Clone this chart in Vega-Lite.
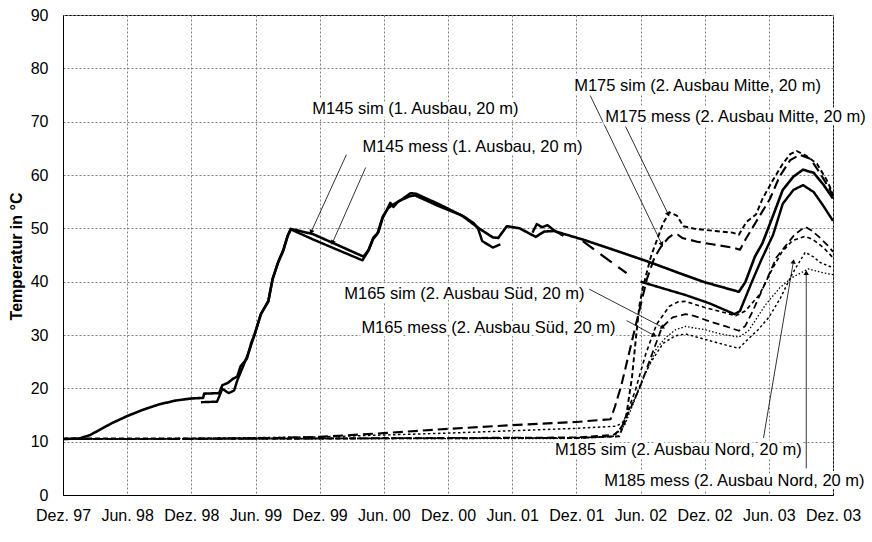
{
  "$schema": "https://vega.github.io/schema/vega-lite/v6.json",
  "width": 770,
  "height": 480,
  "autosize": {"type": "none"},
  "padding": {"left": 63, "top": 15, "right": 39, "bottom": 47},
  "background": "white",
  "config": {
    "font": "Liberation Sans",
    "view": {"stroke": "#000", "strokeWidth": 1},
    "axis": {
      "grid": true, "gridColor": "#808080", "gridDash": [2, 2], "gridWidth": 1,
      "ticks": false, "domain": true, "domainColor": "#000", "domainWidth": 1,
      "labelFont": "Liberation Sans", "labelFontSize": 16, "labelColor": "#000",
      "labelOverlap": false, "labelFlush": false, "labelBound": false
    }
  },
  "datasets": {
    "lines": [
      {"series":"M145 sim","part":"a","month":0,"temp":10.5},
      {"series":"M145 sim","part":"a","month":1.5,"temp":10.6},
      {"series":"M145 sim","part":"a","month":2.5,"temp":11.2},
      {"series":"M145 sim","part":"a","month":3.5,"temp":12.3},
      {"series":"M145 sim","part":"a","month":4.5,"temp":13.4},
      {"series":"M145 sim","part":"a","month":6,"temp":14.8},
      {"series":"M145 sim","part":"a","month":7.5,"temp":16.0},
      {"series":"M145 sim","part":"a","month":9,"temp":17.0},
      {"series":"M145 sim","part":"a","month":10.5,"temp":17.7},
      {"series":"M145 sim","part":"a","month":12,"temp":18.1},
      {"series":"M145 sim","part":"a","month":13.1,"temp":18.2},
      {"series":"M145 sim","part":"a","month":13.2,"temp":19.0},
      {"series":"M145 sim","part":"a","month":14.6,"temp":19.1},
      {"series":"M145 sim","part":"a","month":14.9,"temp":20.6},
      {"series":"M145 sim","part":"a","month":15.4,"temp":21.0},
      {"series":"M145 sim","part":"a","month":15.9,"temp":21.8},
      {"series":"M145 sim","part":"a","month":16.3,"temp":22.2},
      {"series":"M145 sim","part":"a","month":16.6,"temp":24.1},
      {"series":"M145 sim","part":"a","month":17.2,"temp":25.6},
      {"series":"M145 sim","part":"a","month":17.6,"temp":28.5},
      {"series":"M145 sim","part":"a","month":17.9,"temp":30.0},
      {"series":"M145 sim","part":"a","month":18.5,"temp":33.9},
      {"series":"M145 sim","part":"a","month":19.2,"temp":36.3},
      {"series":"M145 sim","part":"a","month":19.6,"temp":40.5},
      {"series":"M145 sim","part":"a","month":20.1,"temp":43.5},
      {"series":"M145 sim","part":"a","month":20.6,"temp":45.8},
      {"series":"M145 sim","part":"a","month":21.0,"temp":48.5},
      {"series":"M145 sim","part":"a","month":21.3,"temp":49.9},
      {"series":"M145 sim","part":"a","month":23.4,"temp":48.9},
      {"series":"M145 sim","part":"a","month":28.1,"temp":44.7},
      {"series":"M145 sim","part":"a","month":28.6,"temp":46.0},
      {"series":"M145 sim","part":"a","month":29.0,"temp":48.0},
      {"series":"M145 sim","part":"a","month":29.4,"temp":49.0},
      {"series":"M145 sim","part":"a","month":29.9,"temp":52.2},
      {"series":"M145 sim","part":"a","month":30.4,"temp":53.8},
      {"series":"M145 sim","part":"a","month":31.0,"temp":54.6},
      {"series":"M145 sim","part":"a","month":31.5,"temp":55.2},
      {"series":"M145 sim","part":"a","month":32.4,"temp":56.0},
      {"series":"M145 sim","part":"a","month":32.9,"temp":56.2},
      {"series":"M145 sim","part":"a","month":35.1,"temp":54.2},
      {"series":"M145 sim","part":"a","month":37.3,"temp":52.4},
      {"series":"M145 sim","part":"a","month":38.1,"temp":51.2},
      {"series":"M145 sim","part":"a","month":38.9,"temp":50.0},
      {"series":"M145 sim","part":"a","month":39.5,"temp":49.2},
      {"series":"M145 sim","part":"a","month":40.2,"temp":48.3},
      {"series":"M145 sim","part":"a","month":40.7,"temp":48.2},
      {"series":"M145 sim","part":"a","month":41.5,"temp":50.4},
      {"series":"M145 sim","part":"a","month":42.7,"temp":50.0},
      {"series":"M145 sim","part":"a","month":44.2,"temp":48.4},
      {"series":"M145 sim","part":"a","month":45.0,"temp":49.4},
      {"series":"M145 sim","part":"a","month":45.9,"temp":49.5},
      {"series":"M145 sim","part":"a","month":48.6,"temp":47.9},
      {"series":"M145 sim","part":"a","month":51.0,"temp":46.3},
      {"series":"M145 sim","part":"a","month":54.8,"temp":43.7},
      {"series":"M145 sim","part":"a","month":57.9,"temp":41.4},
      {"series":"M145 sim","part":"a","month":60.0,"temp":39.9},
      {"series":"M145 sim","part":"a","month":63.2,"temp":38.1},
      {"series":"M145 sim","part":"a","month":63.8,"temp":39.9},
      {"series":"M145 sim","part":"a","month":64.7,"temp":44.7},
      {"series":"M145 sim","part":"a","month":65.4,"temp":47.2},
      {"series":"M145 sim","part":"a","month":66.4,"temp":52.4},
      {"series":"M145 sim","part":"a","month":67.3,"temp":57.2},
      {"series":"M145 sim","part":"a","month":68.3,"temp":59.7},
      {"series":"M145 sim","part":"a","month":69.2,"temp":61.0},
      {"series":"M145 sim","part":"a","month":70.2,"temp":60.4},
      {"series":"M145 sim","part":"a","month":71.1,"temp":58.2},
      {"series":"M145 sim","part":"a","month":72.0,"temp":55.6},

      {"series":"M145 mess","part":"a","month":12.9,"temp":17.4},
      {"series":"M145 mess","part":"a","month":14.4,"temp":17.5},
      {"series":"M145 mess","part":"a","month":14.9,"temp":19.9},
      {"series":"M145 mess","part":"a","month":15.5,"temp":19.1},
      {"series":"M145 mess","part":"a","month":16.0,"temp":19.6},
      {"series":"M145 mess","part":"a","month":16.3,"temp":21.5},
      {"series":"M145 mess","part":"a","month":16.9,"temp":24.4},
      {"series":"M145 mess","part":"a","month":17.4,"temp":27.0},
      {"series":"M145 mess","part":"a","month":17.9,"temp":30.0},
      {"series":"M145 mess","part":"a","month":18.5,"temp":33.9},
      {"series":"M145 mess","part":"a","month":19.2,"temp":36.4},
      {"series":"M145 mess","part":"a","month":19.6,"temp":40.5},
      {"series":"M145 mess","part":"a","month":20.1,"temp":43.6},
      {"series":"M145 mess","part":"a","month":20.6,"temp":46.0},
      {"series":"M145 mess","part":"a","month":21.0,"temp":48.6},
      {"series":"M145 mess","part":"a","month":21.3,"temp":49.8},
      {"series":"M145 mess","part":"a","month":23.4,"temp":47.9},
      {"series":"M145 mess","part":"a","month":28.0,"temp":44.0},
      {"series":"M145 mess","part":"a","month":28.5,"temp":45.6},
      {"series":"M145 mess","part":"a","month":29.0,"temp":48.2},
      {"series":"M145 mess","part":"a","month":29.5,"temp":49.3},
      {"series":"M145 mess","part":"a","month":29.9,"temp":52.0},
      {"series":"M145 mess","part":"a","month":30.3,"temp":53.5},
      {"series":"M145 mess","part":"a","month":30.6,"temp":54.8},
      {"series":"M145 mess","part":"a","month":30.9,"temp":54.0},
      {"series":"M145 mess","part":"a","month":31.3,"temp":54.9},
      {"series":"M145 mess","part":"a","month":31.8,"temp":55.6},
      {"series":"M145 mess","part":"a","month":32.5,"temp":56.6},
      {"series":"M145 mess","part":"a","month":33.0,"temp":56.5},
      {"series":"M145 mess","part":"a","month":35.2,"temp":54.5},
      {"series":"M145 mess","part":"a","month":37.5,"temp":52.2},
      {"series":"M145 mess","part":"a","month":38.4,"temp":51.0},
      {"series":"M145 mess","part":"a","month":38.8,"temp":50.0},
      {"series":"M145 mess","part":"a","month":39.2,"temp":47.6},
      {"series":"M145 mess","part":"a","month":40.2,"temp":46.4},
      {"series":"M145 mess","part":"a","month":40.9,"temp":47.0},
      {"series":"M145 mess","part":"b","month":43.9,"temp":49.2},
      {"series":"M145 mess","part":"b","month":44.3,"temp":50.8},
      {"series":"M145 mess","part":"b","month":44.8,"temp":50.2},
      {"series":"M145 mess","part":"b","month":45.3,"temp":50.6},
      {"series":"M145 mess","part":"b","month":45.8,"temp":49.8},
      {"series":"M145 mess","part":"b","month":46.8,"temp":48.6},
      {"series":"M145 mess","part":"c","month":54.0,"temp":40.0},
      {"series":"M145 mess","part":"c","month":56.0,"temp":38.8},
      {"series":"M145 mess","part":"c","month":58.2,"temp":37.5},
      {"series":"M145 mess","part":"c","month":60.5,"temp":35.9},
      {"series":"M145 mess","part":"c","month":62.8,"temp":33.9},
      {"series":"M145 mess","part":"c","month":63.3,"temp":34.5},
      {"series":"M145 mess","part":"c","month":64.4,"temp":39.9},
      {"series":"M145 mess","part":"c","month":65.3,"temp":44.1},
      {"series":"M145 mess","part":"c","month":66.4,"temp":48.8},
      {"series":"M145 mess","part":"c","month":67.3,"temp":54.6},
      {"series":"M145 mess","part":"c","month":68.3,"temp":57.2},
      {"series":"M145 mess","part":"c","month":69.2,"temp":58.1},
      {"series":"M145 mess","part":"c","month":70.2,"temp":56.8},
      {"series":"M145 mess","part":"c","month":71.1,"temp":54.2},
      {"series":"M145 mess","part":"c","month":72.0,"temp":51.4},

      {"series":"M145 mess (Trend)","part":"a","month":48.6,"temp":47.6},
      {"series":"M145 mess (Trend)","part":"a","month":50.5,"temp":44.8},
      {"series":"M145 mess (Trend)","part":"a","month":52.7,"temp":41.6},

      {"series":"M175 sim","part":"a","month":0,"temp":10.5},
      {"series":"M175 sim","part":"a","month":12,"temp":10.5},
      {"series":"M175 sim","part":"a","month":20,"temp":10.7},
      {"series":"M175 sim","part":"a","month":24,"temp":10.9},
      {"series":"M175 sim","part":"a","month":30,"temp":11.6},
      {"series":"M175 sim","part":"a","month":36,"temp":12.4},
      {"series":"M175 sim","part":"a","month":42,"temp":13.1},
      {"series":"M175 sim","part":"a","month":48,"temp":13.7},
      {"series":"M175 sim","part":"a","month":51.2,"temp":14.2},
      {"series":"M175 sim","part":"a","month":51.6,"temp":16.5},
      {"series":"M175 sim","part":"a","month":52.2,"temp":20.5},
      {"series":"M175 sim","part":"a","month":52.8,"temp":25.5},
      {"series":"M175 sim","part":"a","month":53.4,"temp":30.5},
      {"series":"M175 sim","part":"a","month":54.0,"temp":35.5},
      {"series":"M175 sim","part":"a","month":54.6,"temp":40.5},
      {"series":"M175 sim","part":"a","month":55.3,"temp":44.5},
      {"series":"M175 sim","part":"a","month":55.9,"temp":46.5},
      {"series":"M175 sim","part":"a","month":56.6,"temp":48.2},
      {"series":"M175 sim","part":"a","month":57.0,"temp":48.8},
      {"series":"M175 sim","part":"a","month":57.5,"temp":48.8},
      {"series":"M175 sim","part":"a","month":57.9,"temp":48.2},
      {"series":"M175 sim","part":"a","month":59.3,"temp":47.5},
      {"series":"M175 sim","part":"a","month":60.7,"temp":47.0},
      {"series":"M175 sim","part":"a","month":62.6,"temp":46.4},
      {"series":"M175 sim","part":"a","month":63.3,"temp":46.0},
      {"series":"M175 sim","part":"a","month":63.9,"temp":48.2},
      {"series":"M175 sim","part":"a","month":64.8,"temp":51.2},
      {"series":"M175 sim","part":"a","month":66.1,"temp":55.5},
      {"series":"M175 sim","part":"a","month":67.0,"temp":59.7},
      {"series":"M175 sim","part":"a","month":68.0,"temp":62.8},
      {"series":"M175 sim","part":"a","month":68.9,"temp":63.8},
      {"series":"M175 sim","part":"a","month":69.9,"temp":63.0},
      {"series":"M175 sim","part":"a","month":70.8,"temp":60.3},
      {"series":"M175 sim","part":"a","month":71.7,"temp":57.3},
      {"series":"M175 sim","part":"a","month":72.0,"temp":56.0},

      {"series":"M175 mess","part":"a","month":0,"temp":10.6},
      {"series":"M175 mess","part":"a","month":24,"temp":10.6},
      {"series":"M175 mess","part":"a","month":48,"temp":10.7},
      {"series":"M175 mess","part":"a","month":52.0,"temp":11.0},
      {"series":"M175 mess","part":"a","month":52.6,"temp":14.0},
      {"series":"M175 mess","part":"a","month":53.2,"temp":22.0},
      {"series":"M175 mess","part":"a","month":53.6,"temp":30.0},
      {"series":"M175 mess","part":"a","month":53.9,"temp":35.5},
      {"series":"M175 mess","part":"a","month":54.2,"temp":38.7},
      {"series":"M175 mess","part":"a","month":55.0,"temp":44.9},
      {"series":"M175 mess","part":"a","month":55.5,"temp":47.6},
      {"series":"M175 mess","part":"a","month":56.1,"temp":50.9},
      {"series":"M175 mess","part":"a","month":56.7,"temp":53.0},
      {"series":"M175 mess","part":"a","month":57.4,"temp":52.4},
      {"series":"M175 mess","part":"a","month":58.0,"temp":50.4},
      {"series":"M175 mess","part":"a","month":59.1,"temp":49.9},
      {"series":"M175 mess","part":"a","month":61.0,"temp":49.5},
      {"series":"M175 mess","part":"a","month":62.6,"temp":49.2},
      {"series":"M175 mess","part":"a","month":63.2,"temp":48.8},
      {"series":"M175 mess","part":"a","month":63.9,"temp":51.2},
      {"series":"M175 mess","part":"a","month":64.8,"temp":52.6},
      {"series":"M175 mess","part":"a","month":65.4,"temp":55.5},
      {"series":"M175 mess","part":"a","month":66.4,"temp":59.1},
      {"series":"M175 mess","part":"a","month":67.3,"temp":62.1},
      {"series":"M175 mess","part":"a","month":68.0,"temp":63.9},
      {"series":"M175 mess","part":"a","month":68.6,"temp":64.5},
      {"series":"M175 mess","part":"a","month":69.5,"temp":63.6},
      {"series":"M175 mess","part":"a","month":70.5,"temp":62.1},
      {"series":"M175 mess","part":"a","month":71.4,"temp":59.1},
      {"series":"M175 mess","part":"a","month":72.0,"temp":56.5},

      {"series":"M165 sim","part":"a","month":0,"temp":10.5},
      {"series":"M165 sim","part":"a","month":24,"temp":10.6},
      {"series":"M165 sim","part":"a","month":48,"temp":10.8},
      {"series":"M165 sim","part":"a","month":51.5,"temp":11.3},
      {"series":"M165 sim","part":"a","month":52.1,"temp":12.2},
      {"series":"M165 sim","part":"a","month":53.1,"temp":16.4},
      {"series":"M165 sim","part":"a","month":54.0,"temp":20.5},
      {"series":"M165 sim","part":"a","month":55.0,"temp":26.0},
      {"series":"M165 sim","part":"a","month":56.0,"temp":31.4},
      {"series":"M165 sim","part":"a","month":57.0,"temp":33.3},
      {"series":"M165 sim","part":"a","month":58.2,"temp":33.9},
      {"series":"M165 sim","part":"a","month":59.0,"temp":33.6},
      {"series":"M165 sim","part":"a","month":60.4,"temp":32.6},
      {"series":"M165 sim","part":"a","month":62.0,"temp":31.6},
      {"series":"M165 sim","part":"a","month":63.2,"temp":30.8},
      {"series":"M165 sim","part":"a","month":63.8,"temp":31.7},
      {"series":"M165 sim","part":"a","month":64.5,"temp":34.5},
      {"series":"M165 sim","part":"a","month":65.7,"temp":39.9},
      {"series":"M165 sim","part":"a","month":66.7,"temp":44.5},
      {"series":"M165 sim","part":"a","month":67.6,"temp":46.8},
      {"series":"M165 sim","part":"a","month":68.4,"temp":48.8},
      {"series":"M165 sim","part":"a","month":69.4,"temp":50.3},
      {"series":"M165 sim","part":"a","month":70.0,"temp":49.6},
      {"series":"M165 sim","part":"a","month":70.8,"temp":48.2},
      {"series":"M165 sim","part":"a","month":71.5,"temp":46.8},
      {"series":"M165 sim","part":"a","month":72.0,"temp":45.6},

      {"series":"M165 mess","part":"a","month":0,"temp":10.5},
      {"series":"M165 mess","part":"a","month":48,"temp":10.7},
      {"series":"M165 mess","part":"a","month":51.5,"temp":11.0},
      {"series":"M165 mess","part":"a","month":52.3,"temp":13.0},
      {"series":"M165 mess","part":"a","month":53.5,"temp":19.5},
      {"series":"M165 mess","part":"a","month":54.5,"temp":26.5},
      {"series":"M165 mess","part":"a","month":55.5,"temp":32.0},
      {"series":"M165 mess","part":"a","month":56.7,"temp":35.4},
      {"series":"M165 mess","part":"a","month":57.5,"temp":36.2},
      {"series":"M165 mess","part":"a","month":58.2,"temp":36.3},
      {"series":"M165 mess","part":"a","month":60.1,"temp":35.1},
      {"series":"M165 mess","part":"a","month":61.5,"temp":34.4},
      {"series":"M165 mess","part":"a","month":62.9,"temp":33.6},
      {"series":"M165 mess","part":"a","month":63.8,"temp":34.5},
      {"series":"M165 mess","part":"a","month":65.1,"temp":37.5},
      {"series":"M165 mess","part":"a","month":66.3,"temp":42.3},
      {"series":"M165 mess","part":"a","month":67.2,"temp":45.5},
      {"series":"M165 mess","part":"a","month":68.2,"temp":47.7},
      {"series":"M165 mess","part":"a","month":69.4,"temp":48.5},
      {"series":"M165 mess","part":"a","month":70.2,"temp":47.8},
      {"series":"M165 mess","part":"a","month":71.1,"temp":46.4},
      {"series":"M165 mess","part":"a","month":72.0,"temp":44.5},

      {"series":"M185 sim","part":"a","month":0,"temp":10.5},
      {"series":"M185 sim","part":"a","month":12,"temp":10.6},
      {"series":"M185 sim","part":"a","month":24,"temp":10.9},
      {"series":"M185 sim","part":"a","month":36,"temp":11.6},
      {"series":"M185 sim","part":"a","month":48,"temp":12.5},
      {"series":"M185 sim","part":"a","month":51.7,"temp":12.9},
      {"series":"M185 sim","part":"a","month":52.3,"temp":13.5},
      {"series":"M185 sim","part":"a","month":53.5,"temp":18.2},
      {"series":"M185 sim","part":"a","month":54.2,"temp":21.8},
      {"series":"M185 sim","part":"a","month":55.0,"temp":25.0},
      {"series":"M185 sim","part":"a","month":56.1,"temp":28.4},
      {"series":"M185 sim","part":"a","month":57.2,"temp":29.8},
      {"series":"M185 sim","part":"a","month":58.2,"temp":30.2},
      {"series":"M185 sim","part":"a","month":60.0,"temp":29.2},
      {"series":"M185 sim","part":"a","month":62.0,"temp":28.1},
      {"series":"M185 sim","part":"a","month":63.2,"temp":27.5},
      {"series":"M185 sim","part":"a","month":64.1,"temp":29.3},
      {"series":"M185 sim","part":"a","month":65.0,"temp":31.0},
      {"series":"M185 sim","part":"a","month":66.0,"temp":33.3},
      {"series":"M185 sim","part":"a","month":67.1,"temp":37.0},
      {"series":"M185 sim","part":"a","month":68.2,"temp":41.5},
      {"series":"M185 sim","part":"a","month":69.4,"temp":45.5},
      {"series":"M185 sim","part":"a","month":70.2,"temp":44.6},
      {"series":"M185 sim","part":"a","month":70.8,"temp":43.6},
      {"series":"M185 sim","part":"a","month":72.0,"temp":42.6},

      {"series":"M185 mess","part":"a","month":0,"temp":10.5},
      {"series":"M185 mess","part":"a","month":48,"temp":10.6},
      {"series":"M185 mess","part":"a","month":51.5,"temp":11.0},
      {"series":"M185 mess","part":"a","month":52.5,"temp":13.0},
      {"series":"M185 mess","part":"a","month":53.5,"temp":18.0},
      {"series":"M185 mess","part":"a","month":54.5,"temp":23.0},
      {"series":"M185 mess","part":"a","month":55.5,"temp":27.5},
      {"series":"M185 mess","part":"a","month":56.4,"temp":29.6},
      {"series":"M185 mess","part":"a","month":57.3,"temp":31.0},
      {"series":"M185 mess","part":"a","month":58.2,"temp":31.6},
      {"series":"M185 mess","part":"a","month":60.0,"temp":31.0},
      {"series":"M185 mess","part":"a","month":61.5,"temp":30.2},
      {"series":"M185 mess","part":"a","month":63.2,"temp":29.6},
      {"series":"M185 mess","part":"a","month":64.1,"temp":30.8},
      {"series":"M185 mess","part":"a","month":65.7,"temp":35.7},
      {"series":"M185 mess","part":"a","month":67.0,"temp":38.8},
      {"series":"M185 mess","part":"a","month":68.2,"temp":40.8},
      {"series":"M185 mess","part":"a","month":69.7,"temp":42.4},
      {"series":"M185 mess","part":"a","month":70.8,"temp":41.8},
      {"series":"M185 mess","part":"a","month":72.0,"temp":41.3}
    ],
    "texts": [
      {"label":"M145 sim (1. Ausbau, 20 m)","month":23.3,"temp":72.3},
      {"label":"M145 mess (1. Ausbau, 20 m)","month":28.0,"temp":65.3},
      {"label":"M175 sim (2. Ausbau Mitte, 20 m)","month":47.8,"temp":76.7},
      {"label":"M175 mess (2. Ausbau Mitte, 20 m)","month":50.7,"temp":70.9},
      {"label":"M165 sim (2. Ausbau Süd, 20 m)","month":26.3,"temp":37.6},
      {"label":"M165 mess (2. Ausbau Süd, 20 m)","month":27.9,"temp":31.4},
      {"label":"M185 sim (2. Ausbau Nord, 20 m)","month":46.0,"temp":8.4},
      {"label":"M185 mess (2. Ausbau Nord, 20 m)","month":50.6,"temp":2.6}
    ],
    "arrows": [
      {"label":"M145 sim","month":26.5,"temp":63.8,"month2":23.2,"temp2":49.3},
      {"label":"M145 mess","month":28.3,"temp":61.4,"month2":25.2,"temp2":47.3},
      {"label":"M175 sim","month":49.3,"temp":74.9,"month2":56.0,"temp2":47.0},
      {"label":"M175 mess","month":52.6,"temp":69.1,"month2":56.6,"temp2":52.6},
      {"label":"M165 sim","month":49.2,"temp":38.6,"month2":56.1,"temp2":31.4},
      {"label":"M165 mess","month":52.7,"temp":32.7,"month2":55.3,"temp2":29.9},
      {"label":"M185 sim","month":65.5,"temp":10.7,"month2":68.3,"temp2":43.8},
      {"label":"M185 mess","month":69.5,"temp":5.0,"month2":69.5,"temp2":41.7}
    ]
  },
  "layer": [
    {
      "data": {"name": "lines"},
      "mark": {"type": "line", "color": "#000", "strokeCap": "butt", "strokeJoin": "round"},
      "encoding": {
        "x": {
          "field": "month", "type": "quantitative",
          "scale": {"domain": [0, 72], "nice": false, "zero": false},
          "axis": {
            "values": [0, 6, 12, 18, 24, 30, 36, 42, 48, 54, 60, 66, 72],
            "labelExpr": "['Dez. 97','Jun. 98','Dez. 98','Jun. 99','Dez. 99','Jun. 00','Dez. 00','Jun. 01','Dez. 01','Jun. 02','Dez. 02','Jun. 03','Dez. 03'][round(datum.value/6)]",
            "title": null, "labelPadding": 12
          }
        },
        "y": {
          "field": "temp", "type": "quantitative",
          "scale": {"domain": [0, 90], "nice": false},
          "axis": {
            "values": [0, 10, 20, 30, 40, 50, 60, 70, 80, 90],
            "title": "Temperatur in °C", "titleFontSize": 16, "titleFontWeight": "bold",
            "titleColor": "#000", "titleFont": "Liberation Sans",
            "titleX": -47, "titleY": 241, "titleAngle": -90, "titleAlign": "center", "titleBaseline": "middle",
            "labelPadding": 15
          }
        },
        "detail": {"field": "part"},
        "strokeDash": {
          "field": "series", "type": "nominal", "legend": null,
          "scale": {
            "domain": ["M145 sim","M145 mess","M145 mess (Trend)","M175 sim","M175 mess","M165 sim","M165 mess","M185 sim","M185 mess"],
            "range": [[1,0],[1,0],[14,8],[10,5],[5,3],[7,4],[4,3],[2.5,2.5],[1.5,2]]
          }
        },
        "strokeWidth": {
          "field": "series", "type": "ordinal", "legend": null,
          "scale": {
            "domain": ["M145 sim","M145 mess","M145 mess (Trend)","M175 sim","M175 mess","M165 sim","M165 mess","M185 sim","M185 mess"],
            "range": [2.6,1.3,1.8,2.6,2.0,2.6,1.8,2.4,1.5]
          }
        }
      }
    },
    {
      "data": {"name": "arrows"},
      "mark": {"type": "rule", "color": "#000", "strokeWidth": 0.8},
      "encoding": {
        "x": {"field": "month", "type": "quantitative"},
        "y": {"field": "temp", "type": "quantitative"},
        "x2": {"field": "month2"},
        "y2": {"field": "temp2"}
      }
    },
    {
      "data": {"name": "arrows"},
      "transform": [
        {"calculate": "atan2((datum.month2 - datum.month) * 770 / 72, (datum.temp2 - datum.temp) * 480 / 90) * 180 / PI", "as": "angle"}
      ],
      "mark": {"type": "point", "shape": "triangle-up", "filled": true, "color": "#000", "opacity": 1, "size": 28},
      "encoding": {
        "x": {"field": "month2", "type": "quantitative"},
        "y": {"field": "temp2", "type": "quantitative"},
        "angle": {"field": "angle", "type": "quantitative", "scale": null}
      }
    },
    {
      "data": {"name": "texts"},
      "mark": {"type": "text", "align": "left", "baseline": "middle", "fontSize": 16.5, "font": "Liberation Sans", "fill": "#fff", "stroke": "#fff", "strokeWidth": 7, "strokeJoin": "round"},
      "encoding": {
        "x": {"field": "month", "type": "quantitative"},
        "y": {"field": "temp", "type": "quantitative"},
        "text": {"field": "label"}
      }
    },
    {
      "data": {"name": "texts"},
      "mark": {"type": "text", "align": "left", "baseline": "middle", "fontSize": 16.5, "font": "Liberation Sans", "fill": "#000"},
      "encoding": {
        "x": {"field": "month", "type": "quantitative"},
        "y": {"field": "temp", "type": "quantitative"},
        "text": {"field": "label"}
      }
    }
  ]
}
